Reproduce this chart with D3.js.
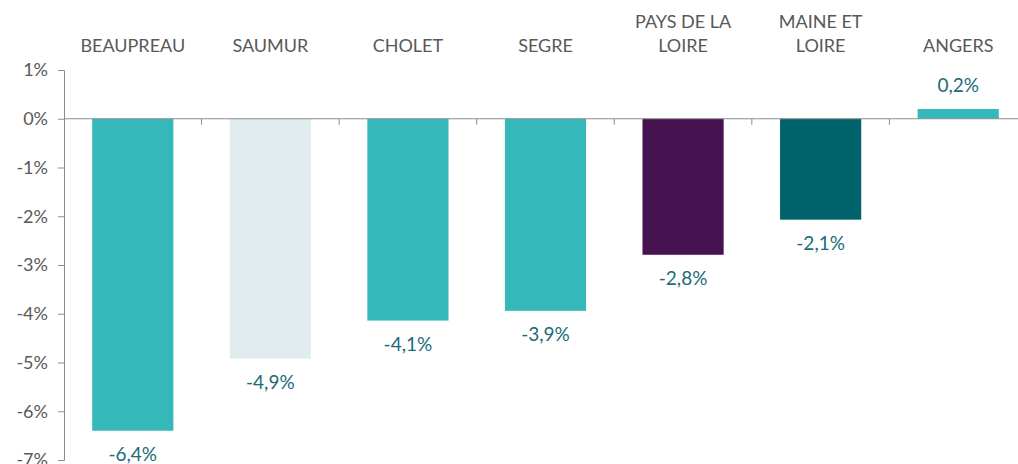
<!DOCTYPE html>
<html>
<head>
<script src="https://d3js.org/d3.v7.min.js"></script>
<style>
body { margin: 0; background: #fff; }
svg { font-family: Lato, "Open Sans", sans-serif; }
</style>
</head>
<body>
<div id="chart"></div>
<script>
var categories = ["BEAUPREAU", "SAUMUR", "CHOLET", "SEGRE", "PAYS DE LA LOIRE", "MAINE ET LOIRE", "ANGERS"];
var labelLines = [["BEAUPREAU"], ["SAUMUR"], ["CHOLET"], ["SEGRE"], ["PAYS DE LA", "LOIRE"], ["MAINE ET", "LOIRE"], ["ANGERS"]];
var values = [-6.4, -4.92, -4.14, -3.94, -2.79, -2.07, 0.2];
var barColors = ["#34b8b9", "#e0ecee", "#34b8b9", "#34b8b9", "#461250", "#00636c", "#34b8b9"];
var yTicks = [1, 0, -1, -2, -3, -4, -5, -6, -7];

var width = 1018, height = 464;
var svg = d3.select("#chart").append("svg").attr("width", width).attr("height", height);

var x = d3.scaleBand().domain(categories).range([64, 1027]).paddingInner(0.41).paddingOuter(0.205);
var y = d3.scaleLinear().domain([1, -7]).range([70, 460]);

// bars
svg.selectAll("rect.bar").data(values).enter().append("rect")
  .attr("class", "bar")
  .attr("x", function (d, i) { return x(categories[i]); })
  .attr("width", x.bandwidth())
  .attr("y", function (d) { return y(Math.max(0, d)); })
  .attr("height", function (d) { return Math.abs(y(d) - y(0)); })
  .attr("fill", function (d, i) { return barColors[i]; });

// y axis
var yAxis = d3.axisLeft(y).tickValues(yTicks).tickSize(6).tickPadding(10)
  .tickFormat(function (d) { return d + "%"; });
var gy = svg.append("g").attr("transform", "translate(64,0)").call(yAxis);
gy.select(".domain").attr("stroke", "#8c8c8c");
gy.selectAll(".tick line").attr("stroke", "#8c8c8c");
gy.selectAll(".tick text").attr("fill", "#595959").style("font-size", "18px").style("font-family", "Lato, 'Open Sans', sans-serif");

// zero line with ticks at band boundaries
svg.append("line").attr("x1", 64).attr("x2", 1027).attr("y1", y(0)).attr("y2", y(0)).attr("stroke", "#8c8c8c");
var step = x.step();
var bounds = d3.range(1, categories.length + 1).map(function (i) { return 64 + i * step; });
svg.selectAll("line.xt").data(bounds).enter().append("line")
  .attr("class", "xt")
  .attr("x1", function (d) { return d; }).attr("x2", function (d) { return d; })
  .attr("y1", y(0)).attr("y2", y(0) + 6)
  .attr("stroke", "#8c8c8c");

// category labels on top
var cat = svg.selectAll("text.cat").data(labelLines).enter().append("text")
  .attr("class", "cat")
  .attr("text-anchor", "middle")
  .attr("fill", "#595959")
  .style("font-size", "18px");
cat.each(function (lines, i) {
  var t = d3.select(this);
  var cx = x(categories[i]) + x.bandwidth() / 2;
  lines.forEach(function (l, j) {
    t.append("tspan").attr("x", cx).attr("y", 52 - (lines.length - 1 - j) * 24).text(l);
  });
});

// value labels
var fmt = function (d) { return d.toFixed(1).replace(".", ",") + "%"; };
svg.selectAll("text.val").data(values).enter().append("text")
  .attr("class", "val")
  .attr("text-anchor", "middle")
  .attr("fill", "#1b6b78")
  .style("font-size", "19px")
  .attr("x", function (d, i) { return x(categories[i]) + x.bandwidth() / 2; })
  .attr("y", function (d) { return d < 0 ? y(d) + 30 : y(d) - 17; })
  .text(fmt);
</script>
</body>
</html>
